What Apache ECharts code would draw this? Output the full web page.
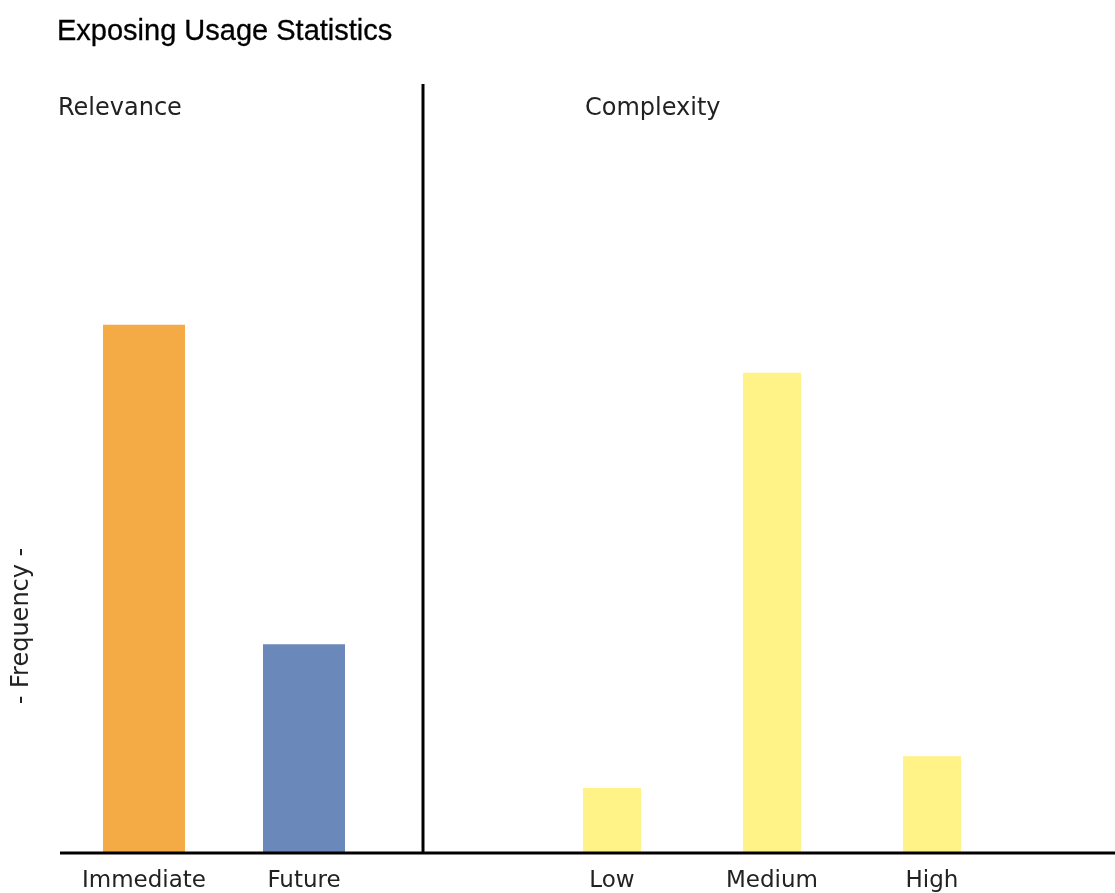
<!DOCTYPE html>
<html>
<head>
<meta charset="utf-8">
<script src="https://cdn.jsdelivr.net/npm/echarts@6/dist/echarts.min.js"></script>
<style>html,body{margin:0;padding:0;background:#fff}#c{width:1115px;height:893px}</style>
</head>
<body>
<div id="c"></div>
<script>
const relevanceCategories = ['Immediate', 'Future'];
const relevanceValues = [33, 13];
const relevanceColors = ['#F4AB45', '#6A89BA'];
const complexityCategories = ['Low', 'Medium', 'High'];
const complexityValues = [4, 30, 6];
const complexityColor = '#FFF286';
const yMax = 48;

const chart = echarts.init(document.getElementById('c'), null, {renderer: 'canvas'});
const labelFont = {fontFamily: 'DejaVu Sans', fontSize: 23, color: '#222'};
const catAxis = (gi, cats) => ({
  type: 'category', gridIndex: gi, data: cats,
  axisLine: {show: false}, axisTick: {show: false},
  axisLabel: Object.assign({margin: 18, interval: 0}, labelFont)
});
const valAxis = (gi) => ({
  type: 'value', gridIndex: gi, min: 0, max: yMax,
  axisLine: {show: false}, axisTick: {show: false}, axisLabel: {show: false}, splitLine: {show: false}
});
chart.setOption({
  animation: false,
  backgroundColor: '#fff',
  title: [
    {text: 'Exposing Usage Statistics', left: 52, top: 12, textStyle: {fontFamily: 'Liberation Sans', fontSize: 29, fontWeight: 'normal', color: '#000', textBorderColor: '#000', textBorderWidth: 0.3}},
    {text: 'Relevance', left: 53, top: 92, textStyle: {fontFamily: 'DejaVu Sans', fontSize: 24, color: '#222', fontWeight: 'normal'}},
    {text: 'Complexity', left: 580, top: 92, textStyle: {fontFamily: 'DejaVu Sans', fontSize: 24, color: '#222', fontWeight: 'normal'}}
  ],
  grid: [
    {left: 64, width: 320, top: 85, height: 768},
    {left: 532, width: 480, top: 85, height: 768}
  ],
  xAxis: [catAxis(0, relevanceCategories), catAxis(1, complexityCategories)],
  yAxis: [valAxis(0), valAxis(1)],
  series: [
    {type: 'bar', xAxisIndex: 0, yAxisIndex: 0, barWidth: 82,
     data: relevanceValues.map((v, i) => ({value: v, itemStyle: {color: relevanceColors[i]}}))},
    {type: 'bar', xAxisIndex: 1, yAxisIndex: 1, barWidth: 58,
     itemStyle: {color: complexityColor}, data: complexityValues}
  ],
  graphic: [
    {type: 'line', shape: {x1: 60, y1: 853, x2: 1115, y2: 853}, style: {stroke: '#000', lineWidth: 3}, z: 10},
    {type: 'line', shape: {x1: 423, y1: 84, x2: 423, y2: 853}, style: {stroke: '#000', lineWidth: 3}, z: 10},
    {type: 'text', x: 22, y: 626, rotation: Math.PI / 2,
     style: {text: '- Frequency -', fontFamily: 'DejaVu Sans', fontSize: 24, fill: '#222', align: 'center', verticalAlign: 'middle'}}
  ]
});
</script>
</body>
</html>
